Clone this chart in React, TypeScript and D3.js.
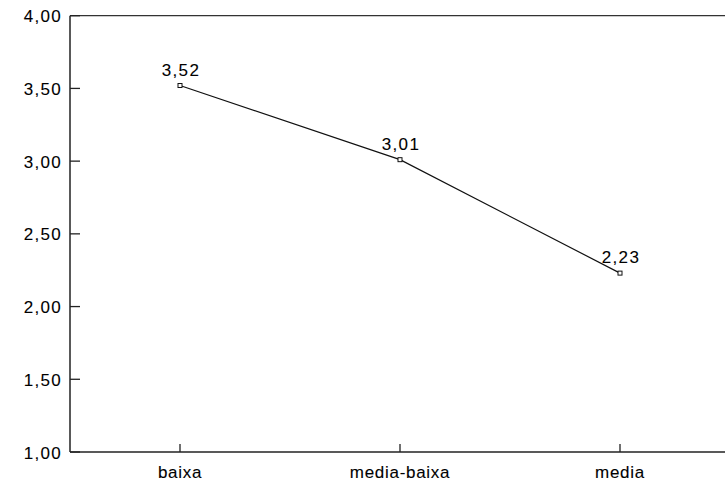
import React from "react";
import * as d3 from "d3";

const categories = ["baixa", "media-baixa", "media"];
const values = [3.52, 3.01, 2.23];
const yTicks = [1.0, 1.5, 2.0, 2.5, 3.0, 3.5, 4.0];

const W = 725;
const H = 481;
const left = 70;
const top = 15.7;
const bottom = 452;

const fmt = (v: number) => v.toFixed(2).replace(".", ",");

export default function App() {
  const x = d3.scaleBand<string>().domain(categories).range([left, 730]);
  const y = d3.scaleLinear().domain([1, 4]).range([bottom, top]);
  const cx = (c: string) => (x(c) as number) + x.bandwidth() / 2;
  const line = d3
    .line<number>()
    .x((_, i) => cx(categories[i]))
    .y((d) => y(d));
  const font = "'Liberation Sans', Arial, sans-serif";
  const textStyle = { stroke: "#111", strokeWidth: 0.1 };
  return (
    <svg
      width={W}
      height={H}
      style={{ position: "fixed", left: 0, top: 0, background: "#fff" }}
      fontFamily={font}
    >
      <rect x={0} y={0} width={W} height={H} fill="#fff" />
      {/* frame */}
      <line x1={left} x2={W} y1={top} y2={top} stroke="#333" strokeWidth={1.3} />
      <line x1={left} x2={W} y1={bottom} y2={bottom} stroke="#222" strokeWidth={1.5} />
      <line x1={left} x2={left} y1={top} y2={bottom} stroke="#222" strokeWidth={1.5} />
      {/* y ticks */}
      {yTicks.map((t) => (
        <g key={t}>
          <line x1={left} x2={left + 10} y1={y(t)} y2={y(t)} stroke="#222" strokeWidth={1.3} />
          <text
            x={62}
            y={y(t) + 6.5}
            textAnchor="end"
            fontSize={17}
            letterSpacing={1.3}
            fill="#000"
            style={textStyle}
          >
            {fmt(t)}
          </text>
        </g>
      ))}
      {/* x ticks */}
      {categories.map((c) => (
        <g key={c}>
          <line x1={cx(c)} x2={cx(c)} y1={bottom} y2={bottom - 8} stroke="#222" strokeWidth={1.3} />
          <text
            x={cx(c)}
            y={478}
            textAnchor="middle"
            fontSize={17}
            letterSpacing={0.7}
            fill="#000"
            style={textStyle}
          >
            {c}
          </text>
        </g>
      ))}
      {/* line */}
      <path d={line(values) || ""} fill="none" stroke="#111" strokeWidth={1.2} />
      {values.map((v, i) => (
        <g key={i}>
          <rect
            x={cx(categories[i]) - 2}
            y={y(v) - 2}
            width={4}
            height={4}
            fill="#fff"
            stroke="#111"
            strokeWidth={1}
          />
          <text
            x={cx(categories[i]) + 1}
            y={y(v) - 10}
            textAnchor="middle"
            fontSize={17}
            letterSpacing={1.3}
            fill="#000"
            style={textStyle}
          >
            {fmt(v)}
          </text>
        </g>
      ))}
    </svg>
  );
}
